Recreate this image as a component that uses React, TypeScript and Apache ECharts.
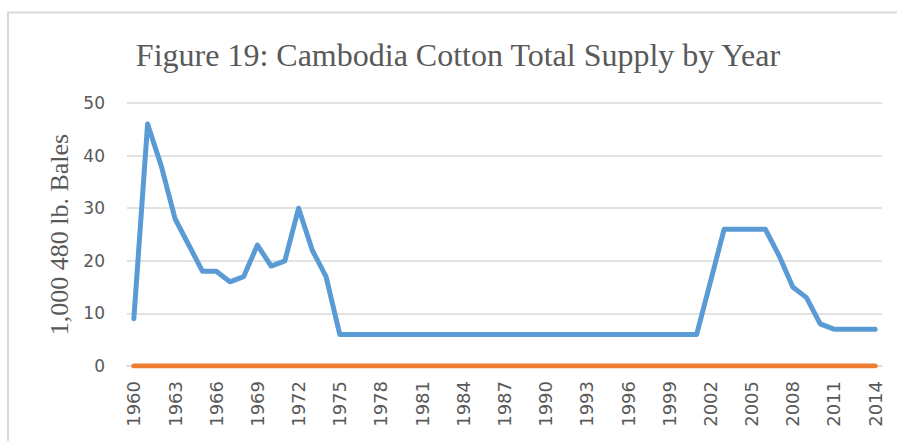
import React, { useEffect, useRef } from "react";
import * as echarts from "echarts";

const years = [
  1960, 1961, 1962, 1963, 1964, 1965, 1966, 1967, 1968, 1969,
  1970, 1971, 1972, 1973, 1974, 1975, 1976, 1977, 1978, 1979,
  1980, 1981, 1982, 1983, 1984, 1985, 1986, 1987, 1988, 1989,
  1990, 1991, 1992, 1993, 1994, 1995, 1996, 1997, 1998, 1999,
  2000, 2001, 2002, 2003, 2004, 2005, 2006, 2007, 2008, 2009,
  2010, 2011, 2012, 2013, 2014,
];

const totalSupply = [
  9, 46, 38, 28, 23, 18, 18, 16, 17, 23,
  19, 20, 30, 22, 17, 6, 6, 6, 6, 6,
  6, 6, 6, 6, 6, 6, 6, 6, 6, 6,
  6, 6, 6, 6, 6, 6, 6, 6, 6, 6,
  6, 6, 16, 26, 26, 26, 26, 21, 15, 13,
  8, 7, 7, 7, 7,
];

const secondSeries = [
  0, 0, 0, 0, 0, 0, 0, 0, 0, 0,
  0, 0, 0, 0, 0, 0, 0, 0, 0, 0,
  0, 0, 0, 0, 0, 0, 0, 0, 0, 0,
  0, 0, 0, 0, 0, 0, 0, 0, 0, 0,
  0, 0, 0, 0, 0, 0, 0, 0, 0, 0,
  0, 0, 0, 0, 0,
];

const xTickLabels = [
  1960, 1963, 1966, 1969, 1972, 1975, 1978, 1981, 1984, 1987,
  1990, 1993, 1996, 1999, 2002, 2005, 2008, 2011, 2014,
];

const yTicks = [0, 10, 20, 30, 40, 50];

const titleText = "Figure 19: Cambodia Cotton Total Supply by Year";
const yAxisTitle = "1,000 480 lb. Bales";

export default function App() {
  const ref = useRef<HTMLDivElement>(null);

  useEffect(() => {
    if (!ref.current) return;
    const chart = echarts.init(ref.current, null, { renderer: "svg" });
    const labelColor = "#595959";
    chart.setOption({
      animation: false,
      backgroundColor: "#ffffff",
      title: {
        text: titleText,
        left: 453,
        top: 34,
        textAlign: "center",
        textStyle: {
          fontFamily: "Liberation Serif",
          fontSize: 32,
          fontWeight: "normal",
          color: labelColor,
        },
      },
      graphic: [
        {
          type: "rect",
          shape: { x: 8, y: 12.5, width: 900, height: 440 },
          style: { fill: "none", stroke: "#d9d9d9", lineWidth: 2 },
          silent: true,
        },
      ],
      grid: { left: 127, right: 15, top: 103, bottom: 75 },
      xAxis: {
        type: "value",
        min: 1959.5,
        max: 2014.5,
        axisLine: { show: true, lineStyle: { color: "#d9d9d9", width: 1.5 } },
        axisTick: { show: false },
        splitLine: { show: false },
        axisLabel: {
          customValues: xTickLabels,
          rotate: 90,
          margin: 15,
          color: labelColor,
          fontFamily: "DejaVu Sans",
          fontSize: 18,
          formatter: (v: number) => String(v),
        },
      },
      yAxis: {
        type: "value",
        min: yTicks[0],
        max: yTicks[yTicks.length - 1],
        interval: 10,
        name: yAxisTitle,
        nameLocation: "middle",
        nameGap: 49,
        nameRotate: 90,
        nameTextStyle: {
          fontFamily: "Liberation Serif",
          fontSize: 26,
          color: labelColor,
        },
        axisLine: { show: false },
        axisTick: { show: false },
        splitLine: { lineStyle: { color: "#d9d9d9", width: 1.5 } },
        axisLabel: {
          margin: 22,
          color: labelColor,
          fontFamily: "DejaVu Sans",
          fontSize: 17,
        },
      },
      series: [
        {
          name: "Total Supply",
          type: "line",
          data: years.map((y, i) => [y, totalSupply[i]]),
          showSymbol: false,
          lineStyle: { color: "#5b9bd5", width: 5, cap: "round", join: "round" },
          z: 3,
        },
        {
          name: "Other",
          type: "line",
          data: years.map((y, i) => [y, secondSeries[i]]),
          showSymbol: false,
          lineStyle: { color: "#ed7d31", width: 5, cap: "round", join: "round" },
          z: 4,
        },
      ],
    });
    return () => chart.dispose();
  }, []);

  return (
    <div
      ref={ref}
      style={{ position: "fixed", left: 0, top: 0, width: 897, height: 441 }}
    />
  );
}
